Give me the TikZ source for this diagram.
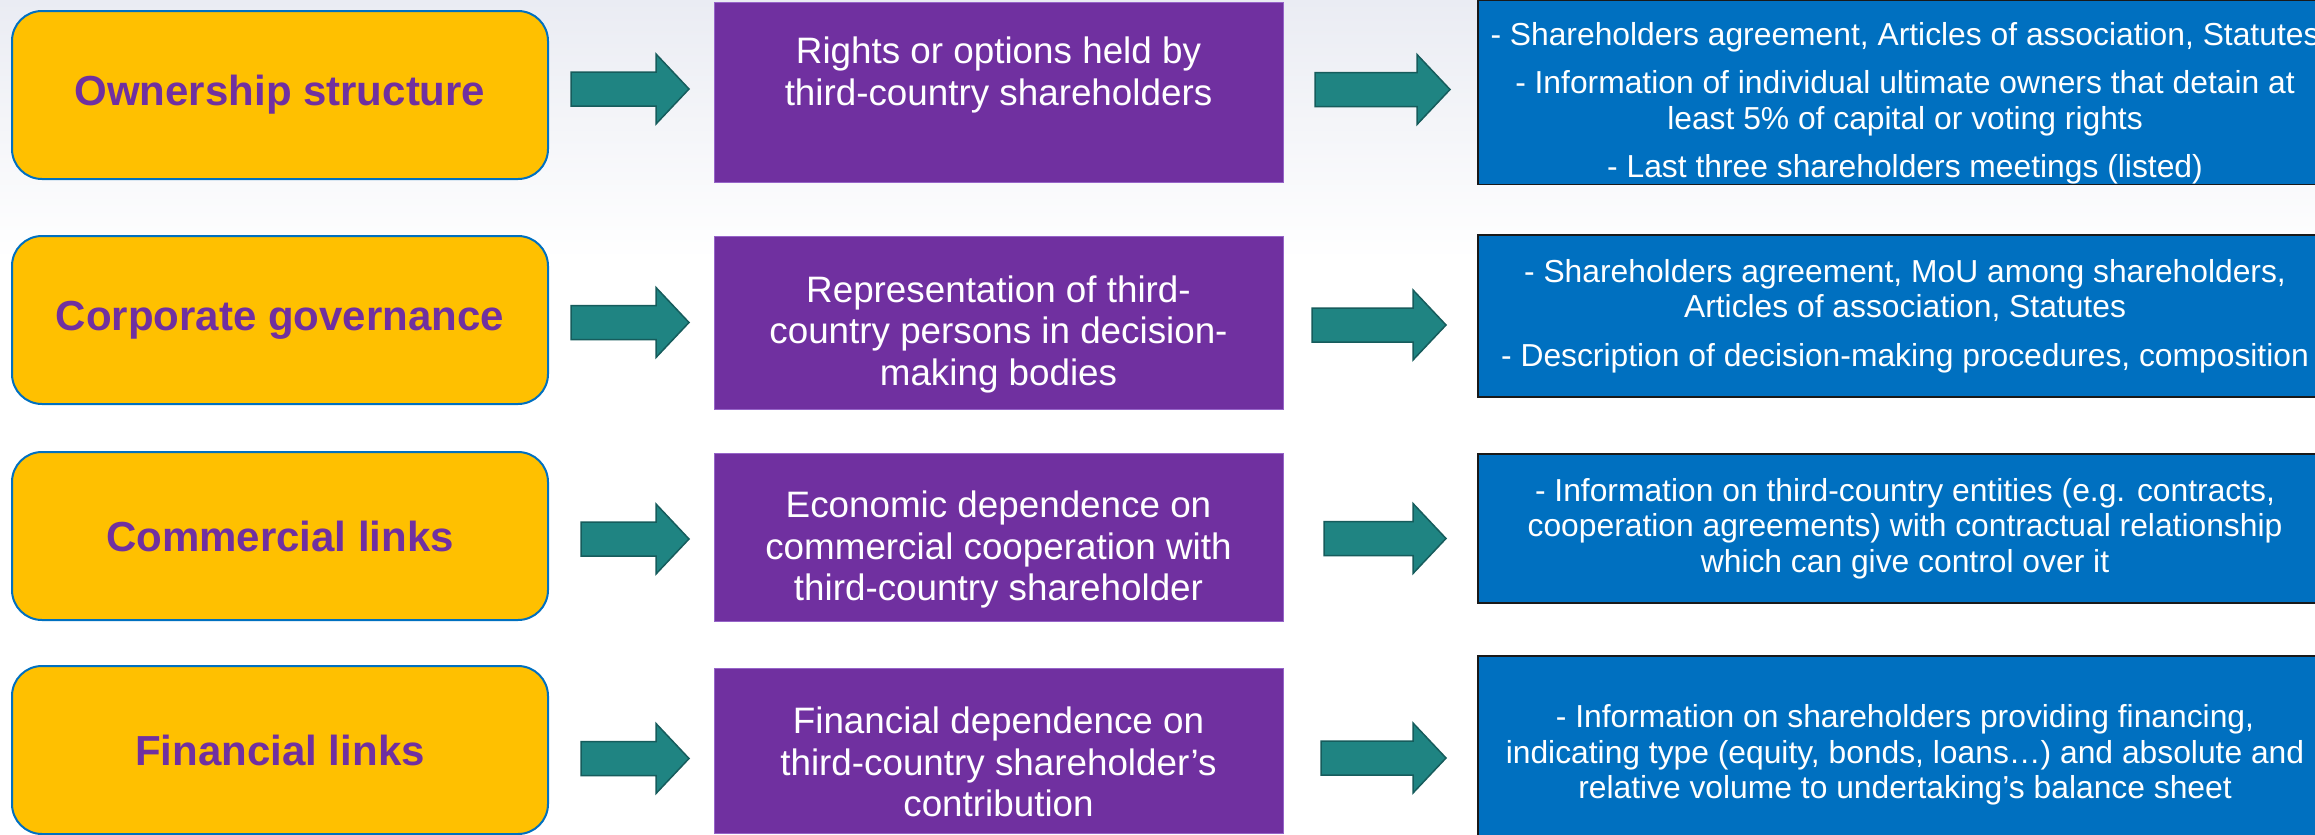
\documentclass[tikz,border=0pt]{standalone}
\usepackage{fontspec}
\setmainfont{Liberation Sans}
\usepackage{tikz}
\usetikzlibrary{calc}
\definecolor{bgtop}{RGB}{234, 236, 243}
\definecolor{catfill}{RGB}{255, 192, 0}
\definecolor{catline}{RGB}{0, 112, 192}
\definecolor{cattext}{RGB}{112, 48, 160}
\definecolor{critfill}{RGB}{112, 48, 160}
\definecolor{critline}{RGB}{150, 100, 200}
\definecolor{evidfill}{RGB}{0, 112, 192}
\definecolor{evidline}{RGB}{25, 25, 25}
\definecolor{arrowfill}{RGB}{31, 132, 130}
\definecolor{arrowline}{RGB}{22, 92, 92}

\begin{document}
\begin{tikzpicture}[x=1pt,y=-1pt]
  \tikzset{CategoryStyle/.style = {
    shape          = rectangle,
    rounded corners = 30pt,
    draw           = catline,
    fill           = catfill,
    line width     = 2pt,
    text           = cattext,
    font           = \fontsize{42}{48}\selectfont\bfseries,
    inner sep      = 0pt,
    outer sep      = 0pt,
    minimum width  = 536pt,
    minimum height = 168pt
    }
  }
  \tikzset{CriterionStyle/.style = {
    shape          = rectangle,
    draw           = critline,
    fill           = critfill,
    line width     = 1pt,
    text           = white,
    align          = center,
    font           = \fontsize{36.8}{41.5}\selectfont,
    inner sep      = 0pt,
    outer sep      = 0pt,
    minimum width  = 569pt
    }
  }
  \tikzset{EvidenceStyle/.style = {
    shape          = rectangle,
    draw           = evidline,
    fill           = evidfill,
    line width     = 1.5pt,
    text           = white,
    align          = center,
    font           = \fontsize{31.8}{35.5}\selectfont,
    inner sep      = 0pt,
    outer sep      = 0pt,
    minimum width  = 854pt
    }
  }
  \tikzset{ArrowStyle/.style = {
    draw           = arrowline,
    fill           = arrowfill,
    line width     = 1.5pt,
    to path        = {let \p1 = (\tikztostart), \p2 = (\tikztotarget) in
      (\x1,\y2+17pt) -- (\x2-33pt,\y2+17pt) -- (\x2-33pt,\y2+35pt) -- (\x2,\y2)
      -- (\x2-33pt,\y2-35pt) -- (\x2-33pt,\y2-17pt) -- (\x1,\y2-17pt) -- cycle}
    }
  }
  % pushes a text block down inside its box
  \newcommand{\toppad}[1]{\rule{0pt}{#1}}

  \useasboundingbox (0,0) rectangle (2315,835);
  \clip (0,0) rectangle (2315,835);
  \fill[white] (0,0) rectangle (2315,835);
  \fill[top color=bgtop, bottom color=white] (0,0) rectangle (2315,260);

  % categories
  \node[CategoryStyle](A1) at (280, 95) {Ownership structure};
  \node[CategoryStyle](A2) at (280, 320) {Corporate governance};
  \node[CategoryStyle](A3) at (280, 536) {Commercial links};
  \node[CategoryStyle](A4) at (280, 750) {Financial links};

  % criteria
  \node[CriterionStyle, minimum height=180pt](B1) at (998.5, 92)
    {Rights or options held by\\third-country shareholders\\\mbox{}};
  \node[CriterionStyle, minimum height=173pt](B2) at (998.5, 322.5)
    {\toppad{50pt}Representation of third-\\country persons in decision-\\making bodies};
  \node[CriterionStyle, minimum height=168pt](B3) at (998.5, 537)
    {\toppad{52pt}Economic dependence on\\commercial cooperation with\\third-country shareholder};
  \node[CriterionStyle, minimum height=165pt](B4) at (998.5, 750.5)
    {\toppad{50pt}Financial dependence on\\third-country shareholder’s\\contribution};

  % evidence
  \node[EvidenceStyle, minimum height=179pt](C1) at (1905, 92.5)
    {\toppad{45pt}- Shareholders agreement, Articles of association, Statutes\\[13pt]
     - Information of individual ultimate owners that detain at\\
     least 5\% of capital or voting rights\\[13pt]
     - Last three shareholders meetings (listed)};
  \node[EvidenceStyle, minimum height=162pt](C2) at (1905, 316)
    {- Shareholders agreement, MoU among shareholders,\\
     Articles of association, Statutes\\[13pt]
     - Description of decision-making procedures, composition};
  \node[EvidenceStyle, minimum height=149pt](C3) at (1905, 528.5)
    {- Information on third-country entities (e.g. contracts,\\
     cooperation agreements) with contractual relationship\\
     which can give control over it};
  \node[EvidenceStyle, minimum height=198pt](C4) at (1905, 755)
    {- Information on shareholders providing financing,\\
     indicating type (equity, bonds, loans…) and absolute and\\
     relative volume to undertaking’s balance sheet};

  \draw[ArrowStyle]([xshift=23pt]A1.east) to ([xshift=-25pt,yshift=3pt]B1.west);
  \draw[ArrowStyle]([xshift=23pt]A2.east) to ([xshift=-25pt]B2.west);
  \draw[ArrowStyle]([xshift=33pt]A3.east) to ([xshift=-25pt,yshift=-2pt]B3.west);
  \draw[ArrowStyle]([xshift=33pt]A4.east) to ([xshift=-25pt,yshift=-8pt]B4.west);
  \draw[ArrowStyle]([xshift=32pt]B1.east) to ([xshift=-28pt,yshift=3pt]C1.west);
  \draw[ArrowStyle]([xshift=29pt]B2.east) to ([xshift=-32pt,yshift=-9pt]C2.west);
  \draw[ArrowStyle]([xshift=41pt]B3.east) to ([xshift=-32pt,yshift=-10pt]C3.west);
  \draw[ArrowStyle]([xshift=38pt]B4.east) to ([xshift=-32pt,yshift=-3pt]C4.west);

\end{tikzpicture}
\end{document}
